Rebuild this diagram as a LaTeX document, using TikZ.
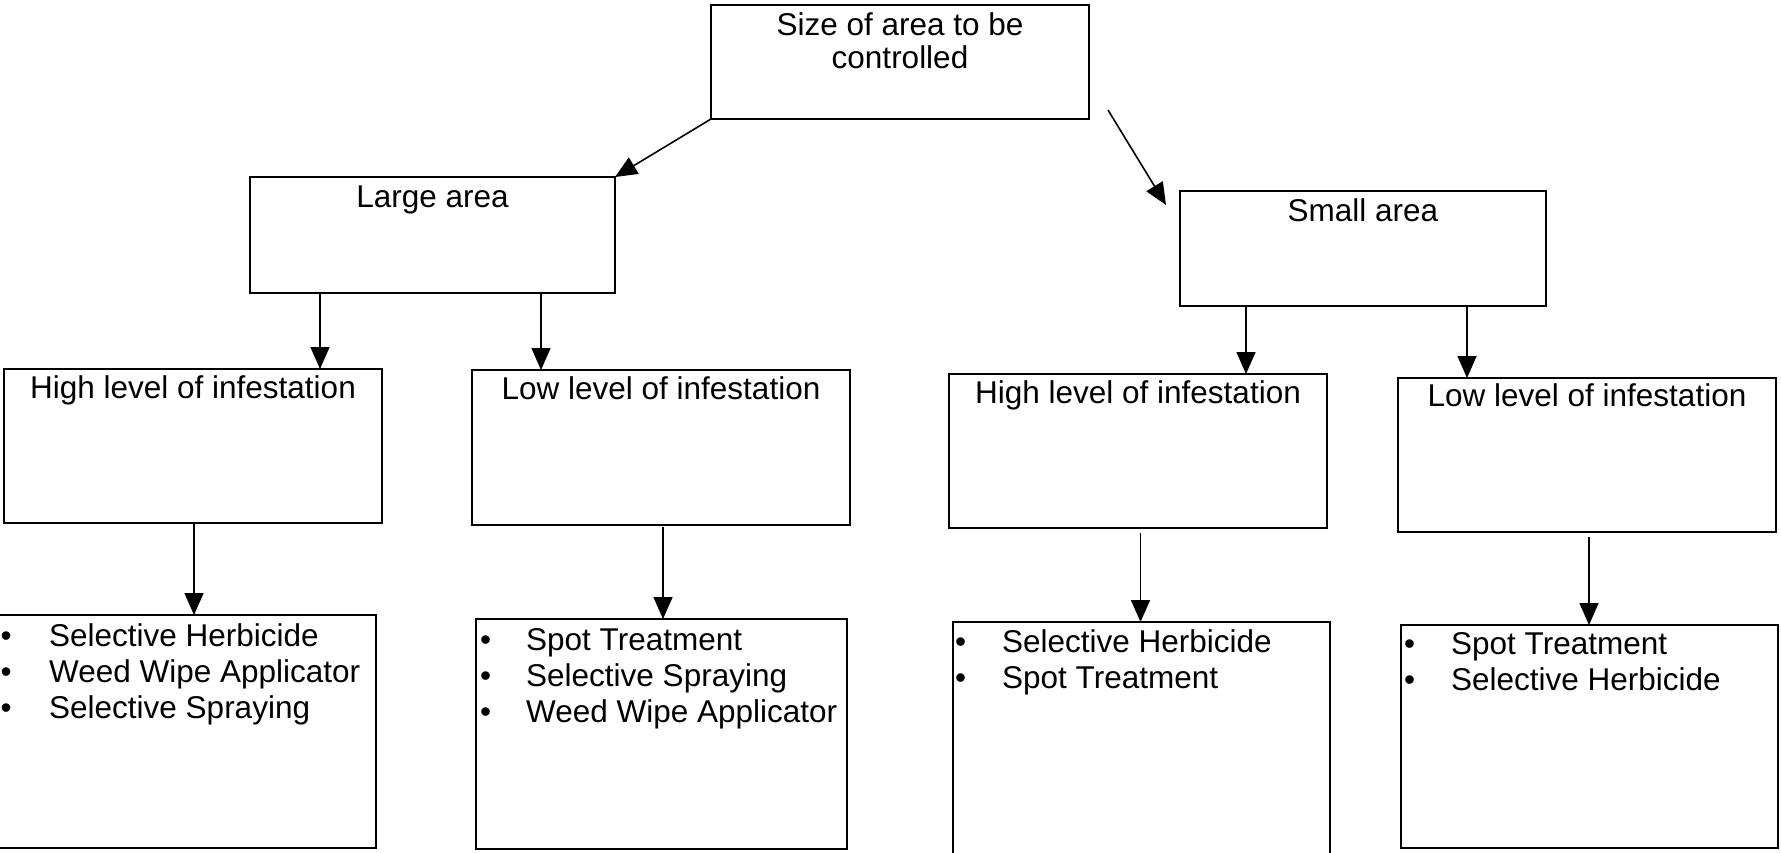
\documentclass[tikz,border=0pt]{standalone}
\usepackage{fontspec}
\setmainfont{Liberation Sans}
\usetikzlibrary{arrows.meta}
\newcommand\bulw[1]{\makebox[#1pt][l]{\textbullet}}
\begin{document}
\begin{tikzpicture}[x=1pt,y=-1pt,
  box/.style={draw,line width=2pt,inner sep=0pt,outer sep=0pt,anchor=north west},
  arr/.style={line width=1.6pt,-{Triangle[length=22pt,width=19pt]}},
  lbl/.style={font=\fontsize{31.5}{36}\selectfont,inner sep=0pt,anchor=base},
  lst/.style={font=\fontsize{31.5}{36}\selectfont,inner sep=0pt,anchor=base west,align=left}]
\useasboundingbox (0,0) rectangle (1781,852);
% boxes
\node[box,minimum width=377.5pt,minimum height=114.5pt] (top) at (711,4.5) {};
\node[box,minimum width=365pt,minimum height=116pt] (large) at (250,177) {};
\node[box,minimum width=366pt,minimum height=115pt] (small) at (1180,191) {};
\node[box,minimum width=378pt,minimum height=154pt] (h1) at (4,369) {};
\node[box,minimum width=378pt,minimum height=155pt] (l1) at (472,370) {};
\node[box,minimum width=378pt,minimum height=154pt] (h2) at (949,374) {};
\node[box,minimum width=378pt,minimum height=154pt] (l2) at (1398,378) {};
\node[box,minimum width=378pt,minimum height=233pt] (b1) at (-2,615) {};
\node[box,minimum width=371pt,minimum height=230pt] (b2) at (476,619) {};
\node[box,minimum width=377pt,minimum height=234pt] (b3) at (953,622) {};
\node[box,minimum width=377pt,minimum height=223pt] (b4) at (1401,625) {};
% texts
\node[lbl] (t1) at (900,35) {Size of area to be};
\node[lbl] (t2) at (900,68) {controlled};
\node[lbl] (tl) at (432.5,207) {Large area};
\node[lbl] (ts) at (1363,221) {Small area};
\node[lbl] (th1) at (193,398) {High level of infestation};
\node[lbl] (tl1) at (661,399.5) {Low level of infestation};
\node[lbl] (th2) at (1138,403) {High level of infestation};
\node[lbl] (tl2) at (1587,406) {Low level of infestation};
% lists (anchor = baseline of the last line)
\node[lst] (lb1) at (0.5,718) {\bulw{48.5}Selective Herbicide\\\bulw{48.5}Weed Wipe Applicator\\\bulw{48.5}Selective Spraying};
\node[lst] (lb2) at (480,722) {\bulw{46}Spot Treatment\\\bulw{46}Selective Spraying\\\bulw{46}Weed Wipe Applicator};
\node[lst] (lb3) at (955,688) {\bulw{47}Selective Herbicide\\\bulw{47}Spot Treatment};
\node[lst] (lb4) at (1404,690) {\bulw{47}Spot Treatment\\\bulw{47}Selective Herbicide};
% connectors
\coordinate (rs) at (1108,110);
\coordinate (re) at (1166,205);
\coordinate (c1) at (320,0);
\coordinate (c2) at (541,0);
\coordinate (c3) at (1246,0);
\coordinate (c4) at (1467,0);
\coordinate (d1) at (194,0);
\coordinate (d2) at (663,0);
\coordinate (d3) at (1140.5,0);
\coordinate (d4) at (1589,0);
\draw[arr] (top.south west) -- (large.north east);
\draw[arr] (rs) -- (re);
\draw[arr] (c1 |- large.south) -- (c1 |- h1.north);
\draw[arr] (c2 |- large.south) -- (c2 |- l1.north);
\draw[arr] (c3 |- small.south) -- (c3 |- h2.north);
\draw[arr] (c4 |- small.south) -- (c4 |- l2.north);
\draw[arr] (d1 |- h1.south) -- (d1 |- b1.north);
\draw[arr,shorten <=2pt] (d2 |- l1.south) -- (d2 |- b2.north);
\draw[arr,shorten <=5pt] (d3 |- h2.south) -- (d3 |- b3.north);
\draw[arr,shorten <=5pt] (d4 |- l2.south) -- (d4 |- b4.north);
\end{tikzpicture}
\end{document}
